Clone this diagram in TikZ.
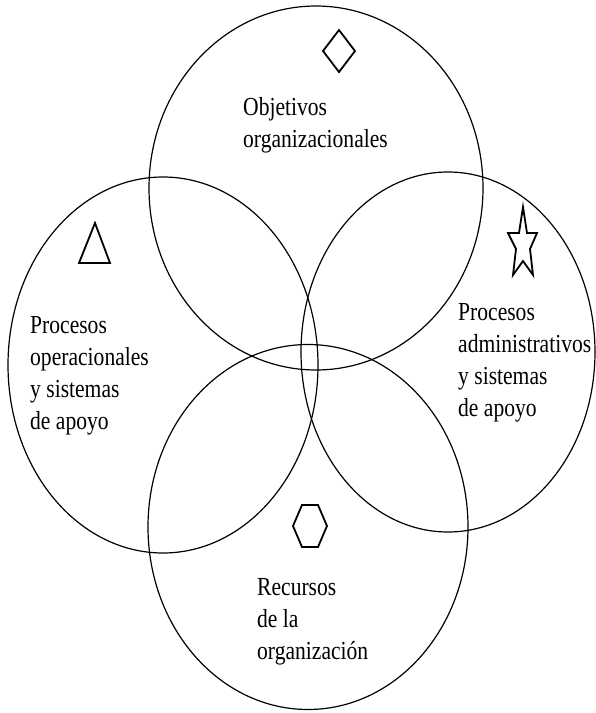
\documentclass[tikz,border=0pt]{standalone}
\usepackage{fontspec}
\setmainfont{Liberation Serif}[FakeStretch=0.83]
\usetikzlibrary{shapes.geometric}
\tikzset{%
  % sets
  ring/.style={draw, ellipse, line width=1.2pt, inner sep=0pt, outer sep=0pt},
  % texts
  lbl/.style={anchor=base west, inner sep=0pt, font=\fontsize{26}{32}\selectfont},
  % small symbols
  glyph/.style={draw, line width=1.8pt, line join=miter},
}
\newcommand{\blurb}[4]{%
  % #1 = name prefix, #2 = x, #3 = first baseline, #4 = lines
  \foreach \wrd [count=\k] in {#4}
    \node[lbl] (#1\k) at (#2, #3+32*\k-32) {\wrd};
}

\begin{document}
\begin{tikzpicture}[x=1pt, y=-1pt]
  \path[fill=white, use as bounding box] (0,0) rectangle (596,713);

  % Sets
  \node[ring, minimum width=334pt, minimum height=364pt] (obj) at (316,188) {};
  \node[ring, minimum width=310pt, minimum height=376pt] (ope) at (163,365) {};
  \node[ring, minimum width=294pt, minimum height=360pt] (adm) at (448,352) {};
  \node[ring, minimum width=320pt, minimum height=365pt] (rec) at (308,527) {};

  % Symbols
  \draw[glyph] (339,30) -- (355,51) -- (339,72) -- (323,51) -- cycle;
  \draw[glyph] (95,223) -- (110,263) -- (79,263) -- cycle;
  \draw[glyph] (523,207) -- (527,233) -- (537,233) -- (530,249) -- (533,275)
    -- (523,261) -- (513,275) -- (516,249) -- (508,233) -- (519,233) -- cycle;
  \draw[glyph] (302,505) -- (318,505) -- (327,526) -- (318,547)
    -- (302,547) -- (293,526) -- cycle;

  % Texts
  \blurb{tobj}{243}{115}{Objetivos, organizacionales}
  \blurb{tope}{30}{333}{Procesos, operacionales, y sistemas, de apoyo}
  \blurb{tadm}{458}{320}{Procesos, administrativos, y sistemas, de apoyo}
  \blurb{trec}{257}{595}{Recursos, de la, organización}
\end{tikzpicture}
\end{document}
